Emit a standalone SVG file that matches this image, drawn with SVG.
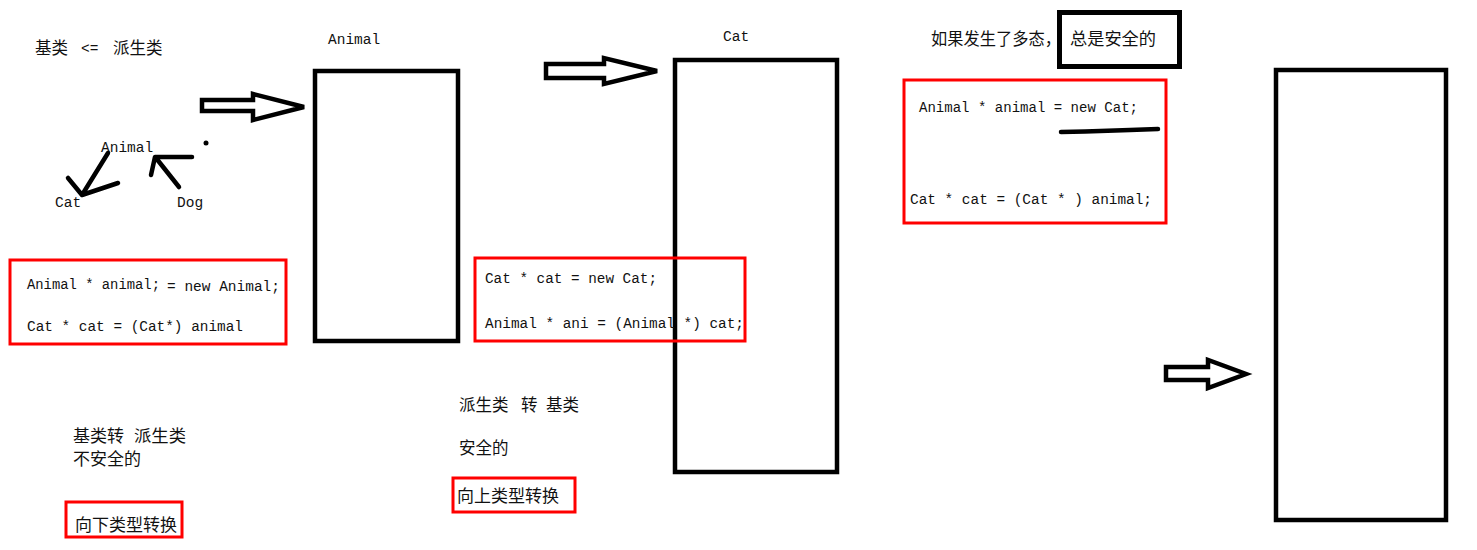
<svg xmlns="http://www.w3.org/2000/svg" width="1477" height="550" viewBox="0 0 1477 550">
<style>
.code{font-family:"Liberation Mono","DejaVu Sans Mono",monospace;font-size:14.5px;fill:#111}
.cn{font-family:"Noto Sans CJK SC","Noto Sans",sans-serif;font-size:16.5px;fill:#111}
.box{fill:none;stroke:#000;stroke-width:4.5}
.red{fill:none;stroke:#f00;stroke-width:3}
.blk{fill:#fff;stroke:#000;stroke-width:4.5;stroke-linejoin:miter}
.ln{fill:none;stroke:#000;stroke-width:4.5;stroke-linecap:round;stroke-linejoin:round}
</style>
<rect width="1477" height="550" fill="#fff"/>

<g id="title-left">
<text class="cn" x="35" y="54">基类</text>
<text class="code" x="81" y="53">&lt;=</text>
<text class="cn" x="113" y="54">派生类</text>
</g>

<g id="node-animal-small"><text class="code" x="101" y="152" font-size="14">Animal</text></g>
<g id="node-cat-small"><text class="code" x="55" y="207" font-size="14">Cat</text></g>
<g id="node-dog-small"><text class="code" x="177" y="207" font-size="14">Dog</text></g>
<g id="dot"><circle cx="206" cy="143" r="2.5" fill="#000"/></g>

<g id="animal-box">
<text class="code" x="328" y="44" font-size="14">Animal</text>
<rect class="box" x="315" y="71" width="143" height="270"/>
</g>

<g id="cat-box">
<text class="code" x="723" y="41" font-size="14">Cat</text>
<rect class="box" x="675" y="60" width="162" height="412"/>
</g>

<g id="right-box">
<rect class="box" x="1276" y="70" width="170" height="450"/>
</g>

<g id="code-downcast">
<rect class="red" x="10" y="260" width="276" height="84"/>
<text class="code" x="27" y="289" textLength="133" lengthAdjust="spacingAndGlyphs">Animal * animal;</text>
<text class="code" x="167" y="291" textLength="113" lengthAdjust="spacingAndGlyphs">= new Animal;</text>
<text class="code" x="27" y="331" textLength="216" lengthAdjust="spacingAndGlyphs">Cat * cat = (Cat*) animal</text>
</g>

<g id="code-upcast">
<rect class="red" x="475" y="258" width="270" height="83"/>
<text class="code" x="485" y="283" textLength="172" lengthAdjust="spacingAndGlyphs">Cat * cat = new Cat;</text>
<text class="code" x="485" y="328" textLength="259" lengthAdjust="spacingAndGlyphs">Animal * ani = (Animal *) cat;</text>
</g>

<g id="code-poly">
<rect class="red" x="904" y="80" width="262" height="143"/>
<text class="code" x="919" y="112" textLength="219" lengthAdjust="spacingAndGlyphs">Animal * animal = new Cat;</text>
<text class="code" x="910" y="204" textLength="242" lengthAdjust="spacingAndGlyphs">Cat * cat = (Cat * ) animal;</text>
<path d="M1061 132 L1085 131.5 L1130 130 L1158 129" fill="none" stroke="#000" stroke-width="4.5" stroke-linecap="round"/>
</g>

<g id="poly-title">
<text class="cn" x="931" y="45" textLength="130" lengthAdjust="spacingAndGlyphs">如果发生了多态，</text>
<text class="cn" x="1070" y="45" textLength="86" lengthAdjust="spacingAndGlyphs">总是安全的</text>
<rect x="1059.5" y="12.5" width="120" height="54" fill="none" stroke="#000" stroke-width="5"/>
</g>

<g id="note-down">
<text class="cn" x="73" y="442" font-size="15" textLength="51" lengthAdjust="spacingAndGlyphs">基类转</text>
<text class="cn" x="134" y="442" font-size="15" textLength="52" lengthAdjust="spacingAndGlyphs">派生类</text>
<text class="cn" x="73" y="465" font-size="15" textLength="68" lengthAdjust="spacingAndGlyphs">不安全的</text>
<rect class="red" x="66" y="502" width="116" height="35"/>
<text class="cn" x="75" y="531" textLength="102" lengthAdjust="spacingAndGlyphs">向下类型转换</text>
</g>

<g id="note-up">
<text class="cn" x="459" y="411">派生类</text>
<text class="cn" x="521" y="411">转</text>
<text class="cn" x="546" y="411">基类</text>
<text class="cn" x="459" y="454">安全的</text>
<rect class="red" x="453" y="478" width="122" height="34"/>
<text class="cn" x="457" y="502" textLength="102" lengthAdjust="spacingAndGlyphs">向上类型转换</text>
</g>

<g id="connectors">
<polygon class="blk" points="202,100 253,100 253,94 304,107 253,120 253,111 202,111"/>
<polygon class="blk" points="546,64 604,64 604,58 657,71 604,84 604,78 546,78"/>
<polygon class="blk" points="1166,367 1208,367 1208,360 1246,374 1208,388 1208,380 1166,380"/>
<path class="ln" d="M108 153 L82 195 M68 178 L82 195 L118 183"/>
<path class="ln" d="M179 187 L156 158 M151 175 L155 157 L192 157"/>
</g>
</svg>
